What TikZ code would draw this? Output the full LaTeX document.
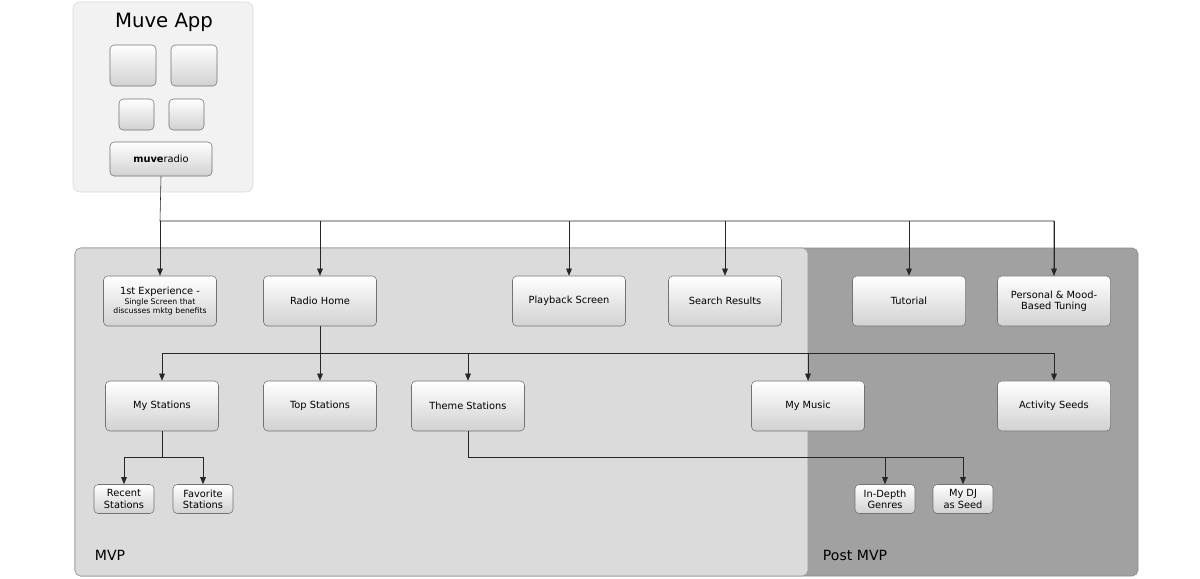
\documentclass[tikz,border=0pt]{standalone}
\usepackage{fontspec}
\setmainfont{DejaVu Sans}
\usetikzlibrary{arrows.meta}
\tikzset{
  screen/.style={draw=black!55, rounded corners=3pt, top color=white, bottom color=black!18,
    minimum width=2.825cm, minimum height=1.25cm, align=center, font=\fontsize{7}{8}\selectfont, inner sep=1pt},
  small/.style={screen, minimum width=1.5cm, minimum height=0.725cm},
  icon/.style={draw=black!55, rounded corners=3pt, top color=white, bottom color=black!18},
  link/.style={-{Triangle[length=5pt,width=4pt]}, black!85},
  bus/.style={black!85}
}
\begin{document}
\begin{tikzpicture}[x=0.025cm, y=-0.025cm]
  \useasboundingbox (0,0) rectangle (1200,578);
  % panels
  \draw[black!45, fill=black!37, rounded corners=4pt] (75,248) rectangle (1138,576);
  \draw[black!40, fill=black!14, rounded corners=4pt] (75,248) rectangle (808,576);
  \draw[black!15, fill=black!5, rounded corners=5pt] (73,2) rectangle (253,192);
  \node[font=\fontsize{14}{16}\selectfont] (title) at (164,22) {Muve App};
  \node[anchor=west, font=\fontsize{10}{12}\selectfont] (mvp) at (90,555) {MVP};
  \node[anchor=west, font=\fontsize{10}{12}\selectfont] (post) at (818,555) {Post MVP};

  % app icons
  \draw[icon] (110,45) rectangle (156,86);
  \draw[icon] (171,45) rectangle (217,86);
  \draw[icon] (119,99) rectangle (154,130);
  \draw[icon] (169,99) rectangle (204,130);
  \node[screen, minimum width=2.55cm, minimum height=0.85cm] (radio) at (161,159) {\textbf{muve}radio};

  % first row
  \node[screen] (first) at (160,301) {1st Experience -\\[-1pt]{\fontsize{5.5}{6.5}\selectfont Single Screen that}\\[-2pt]{\fontsize{5.5}{6.5}\selectfont discusses mktg benefits}};
  \node[screen] (home) at (320,301) {Radio Home};
  \node[screen] (playback) at (569,301) {Playback Screen};
  \node[screen] (search) at (725,301) {Search Results};
  \node[screen] (tutorial) at (909,301) {Tutorial};
  \node[screen] (tuning) at (1054,301) {Personal \& Mood-\\Based Tuning};

  % second row
  \node[screen] (mystations) at (162,406) {My Stations};
  \node[screen] (top) at (320,406) {Top Stations};
  \node[screen] (theme) at (468,406) {Theme Stations};
  \node[screen] (mymusic) at (808,406) {My Music};
  \node[screen] (activity) at (1054,406) {Activity Seeds};

  % third row
  \node[small] (recent) at (124,499) {Recent\\Stations};
  \node[small] (favorite) at (203,499) {Favorite\\Stations};
  \node[small] (genres) at (885,499) {In-Depth\\Genres};
  \node[small] (dj) at (963,499) {My DJ\\as Seed};

  % connectors
  \coordinate (b1) at (160,221);
  \draw[bus] (radio.south) -- (b1) -| (tuning.north);
  \foreach \n in {first,home,playback,search,tutorial,tuning}
    \draw[link] (b1 -| \n.north) -- (\n.north);
  \coordinate (b2) at (320,353);
  \draw[bus] (home.south) -- (b2);
  \draw[bus] (b2 -| mystations.north) -- (b2 -| activity.north);
  \foreach \n in {mystations,top,theme,mymusic,activity}
    \draw[link] (b2 -| \n.north) -- (\n.north);
  \coordinate (b3) at (162,457);
  \draw[bus] (mystations.south) -- (b3);
  \draw[bus] (b3 -| recent.north) -- (b3 -| favorite.north);
  \foreach \n in {recent,favorite}
    \draw[link] (b3 -| \n.north) -- (\n.north);
  \coordinate (b4) at (468,457);
  \draw[bus] (theme.south) -- (b4) -- (b4 -| dj.north);
  \foreach \n in {genres,dj}
    \draw[link] (b4 -| \n.north) -- (\n.north);
\end{tikzpicture}
\end{document}
